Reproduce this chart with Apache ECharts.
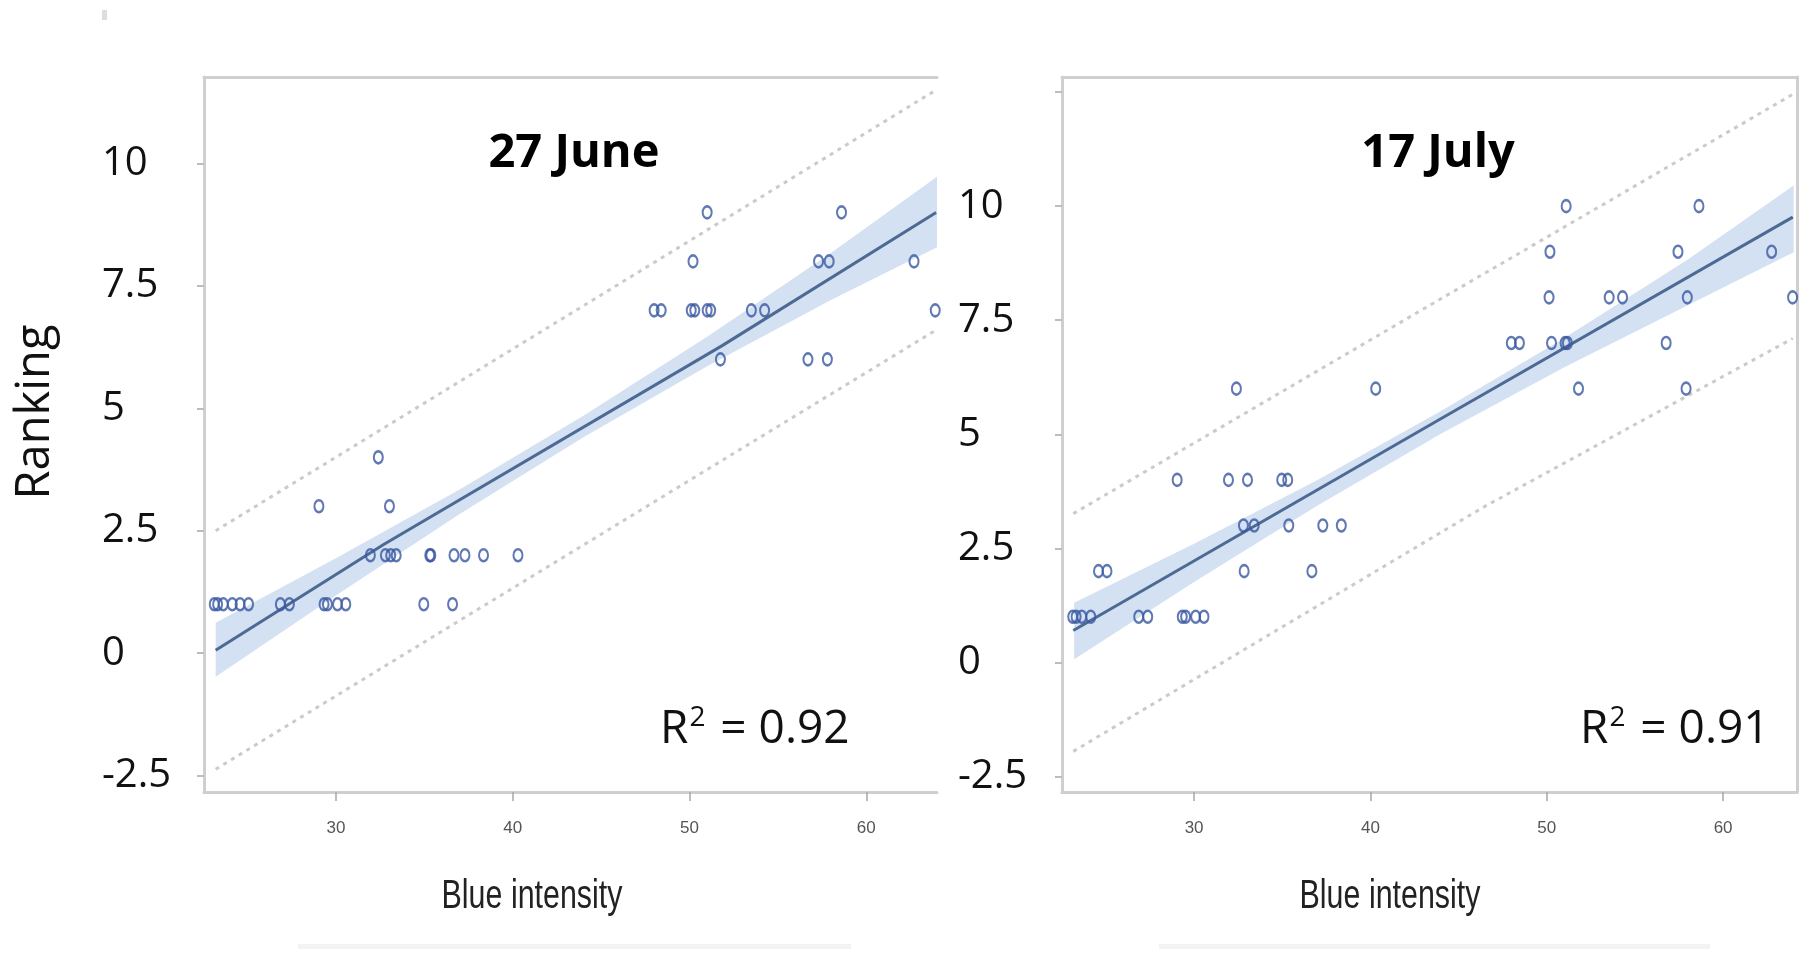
<!DOCTYPE html>
<html><head><meta charset="utf-8">
<script src="https://cdn.jsdelivr.net/npm/echarts@6/dist/echarts.min.js"></script>
<style>html,body{margin:0;padding:0;background:#fff;}#c{width:1814px;height:960px;}</style>
</head><body><div id="c"></div>
<script>
// ---- tick values ----
const xTicks = [30, 40, 50, 60];
const yLabels = [-2.5, 0, 2.5, 5, 7.5, 10];
const yTicksJuly = [-2.5, 0, 2.5, 5, 7.5, 10, 12.5];

// ---- 27 June: blue intensity vs ranking ----
const juneBlue = [23.12, 23.31, 23.63, 24.14, 24.58, 25.06, 26.86, 27.37, 29.33, 29.52, 30.09, 30.56, 34.97, 36.6,
  31.95, 32.8, 33.1, 33.41, 35.31, 35.37, 36.68, 37.3, 38.35, 40.3,
  29.04, 33.03,
  32.4,
  51.75, 56.7, 57.8,
  48.0, 48.4, 50.1, 50.3, 51.0, 51.2, 53.5, 54.25, 63.9,
  50.2, 57.3, 57.9, 62.7,
  51.0, 58.6];
const juneRank = [1, 1, 1, 1, 1, 1, 1, 1, 1, 1, 1, 1, 1, 1,
  2, 2, 2, 2, 2, 2, 2, 2, 2, 2,
  3, 3,
  4,
  6, 6, 6,
  7, 7, 7, 7, 7, 7, 7, 7, 7,
  8, 8, 8, 8,
  9, 9];

// ---- 17 July ----
const julyBlue = [23.12, 23.31, 23.63, 24.14, 26.86, 27.37, 29.33, 29.52, 30.09, 30.56,
  24.58, 25.06, 32.84, 36.68,
  32.8, 33.41, 35.37, 37.3, 38.35,
  29.04, 31.95, 33.03, 34.97, 35.31,
  32.4, 40.3, 51.8, 57.9,
  47.99, 48.45, 50.27, 51.04, 51.17, 56.77,
  50.13, 53.54, 54.3, 57.97, 63.94,
  50.18, 57.44, 62.75,
  51.1, 58.63];
const julyRank = [1, 1, 1, 1, 1, 1, 1, 1, 1, 1,
  2, 2, 2, 2,
  3, 3, 3, 3, 3,
  4, 4, 4, 4, 4,
  6, 6, 6, 6,
  7, 7, 7, 7, 7, 7,
  8, 8, 8, 8, 8,
  9, 9, 9,
  10, 10];

// ---- fitted lines, confidence band, prediction limits ----
const juneFitX = [23.2, 32.7, 51.85, 63.95];
const juneFitY = [0.06, 2.22, 6.28, 9.0];
const juneBandX = [23.2, 30, 37, 44, 51, 58, 64];
const juneBandLo = [-0.48, 1.18, 2.84, 4.41, 5.86, 7.21, 8.29];
const juneBandHi = [0.62, 1.94, 3.34, 4.85, 6.46, 8.17, 9.73];
const junePiX = [23.2, 63.95];
const junePiHi = [2.5, 11.5];
const junePiLo = [-2.37, 6.6];

const julyFitX = [23.15, 44.04, 63.95];
const julyFitY = [0.7, 5.35, 9.76];
const julyBandX = [23.2, 30, 37, 44, 51, 58, 64];
const julyBandLo = [0.07, 1.76, 3.44, 5.01, 6.47, 7.83, 8.99];
const julyBandHi = [1.31, 2.60, 4.00, 5.51, 7.11, 8.83, 10.45];
const julyPiHiX = [23.15, 44.04, 63.95];
const julyPiHi = [3.26, 7.98, 12.45];
const julyPiLoX = [23.15, 46.35, 63.95];
const julyPiLo = [-1.95, 3.39, 7.1];

const zip = (a, b) => a.map((v, i) => [v, b[i]]);

const FRAME = '#cfcfcf';
const PT = '#3a58a0';
const FIT = '#4d6a94';
const BAND = '#d3e1f2';
const DOT = '#cbcbcb';
const SANS = '"Open Sans", "DejaVu Sans", sans-serif';
const ARIAL = '"Liberation Sans", Arial, sans-serif';

function xBottom(grid, min, max) {
  return {
    gridIndex: grid, type: 'value', min: min, max: max, position: 'bottom',
    axisLine: { show: true, onZero: false, lineStyle: { color: FRAME, width: 3 } },
    axisTick: { show: true, customValues: xTicks, length: 9, lineStyle: { color: '#a8a8a8', width: 1.5 } },
    axisLabel: { customValues: xTicks, margin: 28, fontSize: 17, fontFamily: ARIAL, color: '#555' },
    splitLine: { show: false }
  };
}
function xTop(grid, min, max) {
  return {
    gridIndex: grid, type: 'value', min: min, max: max, position: 'top',
    axisLine: { show: true, onZero: false, lineStyle: { color: FRAME, width: 3 } },
    axisTick: { show: false }, axisLabel: { show: false }, splitLine: { show: false }
  };
}
function yLeft(grid, min, max, ticks, margin) {
  return {
    gridIndex: grid, type: 'value', min: min, max: max, position: 'left',
    axisLine: { show: true, onZero: false, lineStyle: { color: FRAME, width: 3 } },
    axisTick: { show: true, customValues: ticks, length: 7, lineStyle: { color: '#bdbdbd', width: 2 } },
    axisLabel: { customValues: yLabels, align: 'left', margin: margin, fontSize: 40, fontFamily: SANS, color: '#111' },
    splitLine: { show: false }
  };
}
function band(xs, lo, hi, xi, yi) {
  return {
    type: 'custom', xAxisIndex: xi, yAxisIndex: yi, z: 1, silent: true,
    data: [[xs[0], lo[0]]],
    renderItem: function (params, api) {
      const pts = [];
      for (let i = 0; i < xs.length; i++) pts.push(api.coord([xs[i], hi[i]]));
      for (let i = xs.length - 1; i >= 0; i--) pts.push(api.coord([xs[i], lo[i]]));
      return { type: 'polygon', shape: { points: pts }, style: { fill: BAND } };
    }
  };
}
function line(xs, ys, xi, yi, style, z) {
  return { type: 'line', xAxisIndex: xi, yAxisIndex: yi, data: zip(xs, ys), symbol: 'none', silent: true, z: z, lineStyle: style };
}
function pts(xs, ys, xi, yi) {
  return {
    type: 'scatter', xAxisIndex: xi, yAxisIndex: yi, data: zip(xs, ys), z: 5, silent: true,
    symbol: 'circle', symbolSize: [9, 12],
    itemStyle: { color: 'rgba(255,255,255,0)', borderColor: PT, borderWidth: 2.3 }
  };
}
const dotted = { color: DOT, width: 3, type: [4, 5] };
const fitStyle = { color: FIT, width: 3 };

const chart = echarts.init(document.getElementById('c'), null, { renderer: 'canvas' });
chart.setOption({
  backgroundColor: '#fff',
  animation: false,
  grid: [
    { left: 204, top: 77, width: 733, height: 715 },
    { left: 1062, top: 77, width: 735, height: 715 }
  ],
  xAxis: [xBottom(0, 22.54, 64.0), xTop(0, 22.54, 64.0), xBottom(1, 22.51, 64.19), xTop(1, 22.51, 64.19)],
  yAxis: [
    yLeft(0, -2.834, 11.765, yLabels, 102),
    yLeft(1, -2.84, 12.83, yTicksJuly, 104),
    { gridIndex: 1, type: 'value', min: -2.84, max: 12.83, position: 'right',
      axisLine: { show: true, onZero: false, lineStyle: { color: FRAME, width: 3 } },
      axisTick: { show: false }, axisLabel: { show: false }, splitLine: { show: false } }
  ],
  series: [
    band(juneBandX, juneBandLo, juneBandHi, 0, 0),
    line(junePiX, junePiHi, 0, 0, dotted, 2),
    line(junePiX, junePiLo, 0, 0, dotted, 2),
    line(juneFitX, juneFitY, 0, 0, fitStyle, 3),
    pts(juneBlue, juneRank, 0, 0),
    band(julyBandX, julyBandLo, julyBandHi, 2, 1),
    line(julyPiHiX, julyPiHi, 2, 1, dotted, 2),
    line(julyPiLoX, julyPiLo, 2, 1, dotted, 2),
    line(julyFitX, julyFitY, 2, 1, fitStyle, 3),
    pts(julyBlue, julyRank, 2, 1)
  ],
  graphic: [
    { type: 'rect', shape: { x: 102, y: 10, width: 5, height: 10 }, style: { fill: '#dddddd' } },
    { type: 'rect', shape: { x: 298, y: 944, width: 553, height: 5 }, style: { fill: '#f3f3f3' } },
    { type: 'rect', shape: { x: 1159, y: 944, width: 551, height: 5 }, style: { fill: '#f3f3f3' } },
    { type: 'text', x: 36, y: 412, rotation: Math.PI / 2,
      style: { text: 'Ranking', fontSize: 47, fontFamily: SANS, fill: '#111', textAlign: 'center', textVerticalAlign: 'middle' } },
    { type: 'text', x: 574, y: 154,
      style: { text: '27 June', fontSize: 47, fontWeight: 'bold', fontFamily: SANS, fill: '#000', textAlign: 'center', textVerticalAlign: 'middle' } },
    { type: 'text', x: 1438, y: 154,
      style: { text: '17 July', fontSize: 47, fontWeight: 'bold', fontFamily: SANS, fill: '#000', textAlign: 'center', textVerticalAlign: 'middle' } },
    { type: 'text', x: 532, y: 897, scaleX: 0.76,
      style: { text: 'Blue intensity', fontSize: 40, fontFamily: ARIAL, fill: '#222', textAlign: 'center', textVerticalAlign: 'middle' } },
    { type: 'text', x: 1390, y: 897, scaleX: 0.76,
      style: { text: 'Blue intensity', fontSize: 40, fontFamily: ARIAL, fill: '#222', textAlign: 'center', textVerticalAlign: 'middle' } },
    { type: 'text', x: 660, y: 725,
      style: { text: '{a|R}{s|2}{a| = 0.92}', textAlign: 'left', textVerticalAlign: 'middle',
        rich: { a: { fontSize: 46, fontFamily: SANS, fill: '#111', verticalAlign: 'bottom', lineHeight: 56 },
                s: { fontSize: 28, fontFamily: SANS, fill: '#111', verticalAlign: 'bottom', lineHeight: 56, padding: [0, 3, 21, 1] } } } },
    { type: 'text', x: 1580, y: 725,
      style: { text: '{a|R}{s|2}{a| = 0.91}', textAlign: 'left', textVerticalAlign: 'middle',
        rich: { a: { fontSize: 46, fontFamily: SANS, fill: '#111', verticalAlign: 'bottom', lineHeight: 56 },
                s: { fontSize: 28, fontFamily: SANS, fill: '#111', verticalAlign: 'bottom', lineHeight: 56, padding: [0, 3, 21, 1] } } } }
  ]
});
</script>
</body></html>
